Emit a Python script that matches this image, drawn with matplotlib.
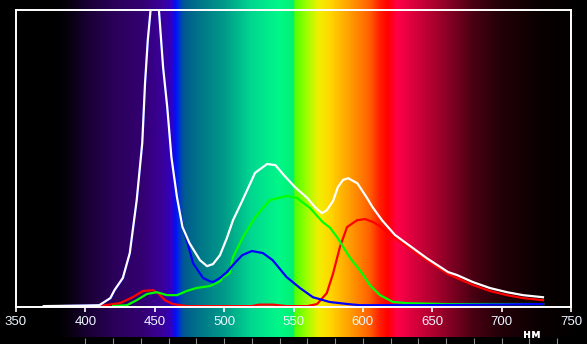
import numpy as np
import matplotlib
matplotlib.use('Agg')
import matplotlib.pyplot as plt
from matplotlib.colors import LinearSegmentedColormap

# spectrum curves (nm, relative intensity)
white_nm = [370, 400, 410, 418, 421, 427, 432, 437, 441, 443, 445, 447, 449, 451, 453, 456, 459, 462, 466,
            470, 475, 482.6, 487.7, 492, 497, 502, 506.4, 513, 522.3, 531, 537, 542.4, 551, 560,
            565.5, 570.5, 574, 578.5, 582, 585.7, 589.3, 596, 603, 607, 613.8, 623.2, 634, 646,
            661.4, 667.8, 679.4, 691.6, 703.9, 715.4, 729.8]
white_val = [0, 0.2, 0.3, 2.7, 5.4, 9.5, 17.9, 35.8, 55.1, 75.3, 89.9, 100, 107, 108, 100, 80.7, 67.2, 50.3, 36.8,
             26.7, 21.3, 15.5, 13.5, 14.2, 17.2, 23, 29, 35.5, 45, 48, 47.6, 44.6, 40.2, 36.5,
             33.4, 31.4, 32.4, 35.5, 40.2, 42.6, 43.2, 41.5, 36.5, 33.4, 29, 24, 20.3, 16.2,
             11.5, 10.5, 8.1, 6.1, 4.7, 3.7, 3.0]

red_nm = [405, 414, 425, 434, 441.5, 448.7, 452.3, 457.4, 463, 473, 520, 525, 535, 545, 560, 567,
          574, 578.5, 583.5, 588.6, 595.8, 601.5, 607.3, 612.3, 619.5, 634, 646, 661.4, 679.4,
          691.6, 703.9, 715.4, 729.8]
red_val = [0, 0.3, 1.0, 3, 5.1, 5.4, 4.4, 2.0, 0.7, 0, 0, 0.5, 0.5, 0, 0, 0.7,
           4.4, 11, 20, 26.7, 29, 29.4, 28.4, 27, 24.3, 19.6, 15.5, 10.8, 7.1,
           5.1, 3.7, 2.7, 2.0]

green_nm = [420, 430, 437, 444.4, 451.6, 458.8, 466, 473, 480, 490, 497, 499.2, 504, 506.4, 513.6,
            522.3, 533, 545.3, 552.5, 562, 571, 576.3, 581.4, 588.6, 592, 596, 599.4, 605, 612.3,
            621.7, 631.8, 660, 730]
green_val = [0, 0.3, 2.0, 4.1, 4.7, 3.7, 3.7, 5.1, 6.1, 6.8, 8.4, 9.8, 11.1, 16.6, 23.3,
             30, 35.8, 37.2, 36.5, 33.1, 28.4, 26.5, 23.3, 17.9, 15.5, 13.2, 11.1, 7.1, 3.7,
             1.4, 1.0, 0.7, 0.7]

blue_nm = [380, 400, 410, 418, 421, 427, 432, 437, 441, 443, 445, 447, 449, 451, 453, 456, 459, 462, 466,
           470.4, 473.2, 477.6, 484.8, 489.8, 492, 497, 502, 506.4, 513, 520, 528, 535, 545,
           554.7, 564, 576, 589, 598, 640, 730]
blue_val = [0, 0.2, 0.3, 2.5, 5.2, 9.3, 17.7, 35.6, 55, 75, 89.8, 100, 107, 108, 100, 80.5, 67, 50, 36.6,
            26.4, 22, 14.5, 9.5, 8.4, 8.1, 9.5, 11.5, 13.9, 17.2, 18.6, 17.9, 15.5, 9.8,
            6.1, 3.0, 1.4, 0.7, 0.3, 0.3, 0.7]

x_ticks = [350, 400, 450, 500, 550, 600, 650, 700, 750]

# background spectrum colours
spec_nm = [338, 380, 390, 400, 420, 440, 455, 462, 465, 468, 471, 480, 500, 520, 540, 550, 551,
           560, 568, 576, 590, 605, 612, 618, 625, 650, 680, 700, 730, 761]
spec_col = ['#000000', '#000000', '#0a0012', '#180030', '#2a0058', '#330070', '#3a0098', '#3200c0',
            '#0010ff', '#0038c8', '#005a90', '#00708a', '#009a88', '#00d890', '#00f888', '#00f070',
            '#50ff00', '#a0ff00', '#f0f000', '#ffd800', '#ffa000', '#ff6000', '#ff2000', '#ff0000',
            '#ff0048', '#b00030', '#480012', '#220008', '#080000', '#000000']

W, H = 587, 344
fig = plt.figure(figsize=(W / 100, H / 100), dpi=100, facecolor='black')

# full-figure background axes (x in nm, y in pixels)
bg = fig.add_axes([0, 0, 1, 1])
nm0 = 350 - 16 / 1.3875
nm1 = 350 + (W - 16) / 1.3875
pos = [(v - nm0) / (nm1 - nm0) for v in spec_nm]
pos[0], pos[-1] = 0.0, 1.0
cmap = LinearSegmentedColormap.from_list('spec', list(zip(pos, spec_col)), N=1024)
grad = np.linspace(0, 1, 1024)[None, :]
bg.imshow(grad, cmap=cmap, aspect='auto', extent=[nm0, nm1, 337.5, 0])
bg.set_xlim(nm0, nm1)
bg.set_ylim(H, 0)
bg.set_facecolor('black')
bg.vlines(np.arange(400, 741, 20), 338, H, colors='#8a8a8a', linewidth=0.8)
bg.axis('off')

# plot axes
ax = fig.add_axes([16 / W, (H - 307) / H, 555 / W, 297 / H])
ax.patch.set_alpha(0)
ax.plot(red_nm, red_val, color='#ff0000', lw=1.6)
ax.plot(green_nm, green_val, color='#00ff00', lw=1.6)
ax.plot(blue_nm, blue_val, color='#0000ff', lw=1.6)
ax.plot(white_nm, white_val, color='white', lw=1.6)
ax.set_xlim(350, 750)
ax.set_ylim(-0.3, 100)
ax.set_xticks(x_ticks)
ax.set_yticks([])
for s in ax.spines.values():
    s.set_color('white')
    s.set_linewidth(1.4)
ax.tick_params(axis='x', colors='white', length=3.5, width=1.2, pad=3,
               labelsize=9.5, labelcolor='#eef6ff')
for lab in ax.get_xticklabels():
    lab.set_family(['Liberation Sans', 'DejaVu Sans'])

fig.text(532 / W, 1 - 335 / H, 'нм', color='white', fontsize=8.5, fontweight='bold',
         ha='center', va='center')

fig.savefig('out.png', dpi=100, facecolor='black')
